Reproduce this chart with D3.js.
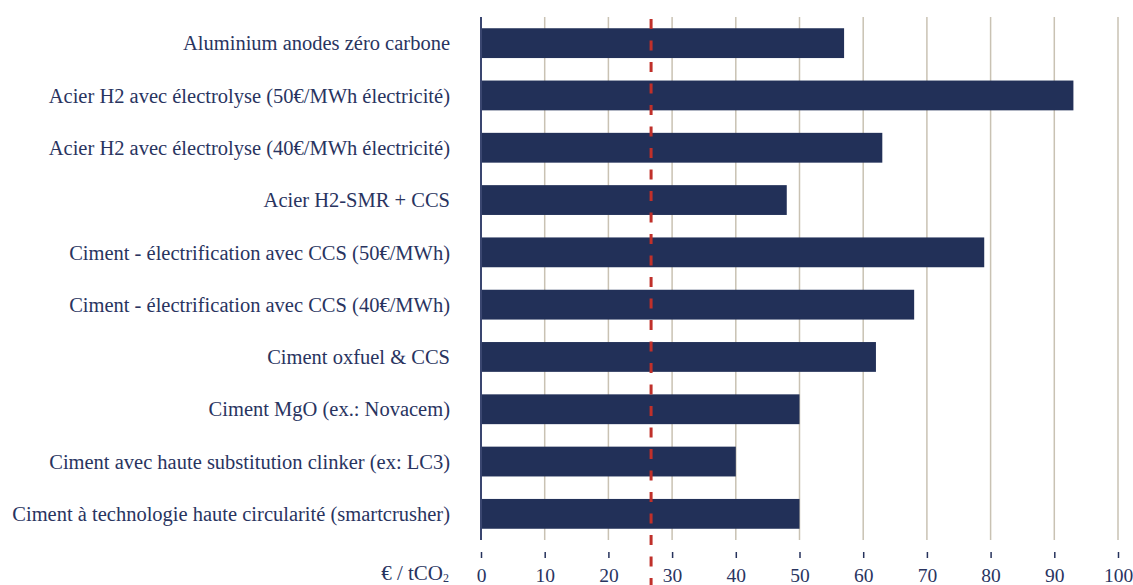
<!DOCTYPE html>
<html>
<head>
<meta charset="utf-8">
<script src="https://cdn.jsdelivr.net/npm/d3@7"></script>
<style>
  html, body { margin: 0; padding: 0; background: #ffffff; }
  svg { display: block; }
  text { font-family: "Liberation Serif", "DejaVu Serif", serif; fill: #29345f; }
</style>
</head>
<body>
<svg id="chart" width="1133" height="585"></svg>
<script>
// Abatement cost by industrial decarbonisation option (€ / tCO2)
const categories = [
  "Aluminium anodes zéro carbone",
  "Acier H2 avec électrolyse (50€/MWh électricité)",
  "Acier H2 avec électrolyse (40€/MWh électricité)",
  "Acier H2-SMR + CCS",
  "Ciment - électrification avec CCS (50€/MWh) ",
  "Ciment - électrification avec CCS (40€/MWh) ",
  "Ciment oxfuel & CCS",
  "Ciment MgO (ex.: Novacem)",
  "Ciment avec haute substitution clinker (ex: LC3)",
  "Ciment à technologie haute circularité (smartcrusher)"
];
const costs = [57, 93, 63, 48, 79, 68, 62, 50, 40, 50];
const tickValues = [0, 10, 20, 30, 40, 50, 60, 70, 80, 90, 100];
const carbonPrice = [26.7];

const svg = d3.select("#chart");
const margin = { left: 481, top: 17, plotBottom: 540 };

const x = d3.scaleLinear().domain([0, 100]).range([margin.left, 1118]);
const y = d3.scaleBand().domain(categories).range([margin.top, margin.plotBottom]).paddingInner(0.43).paddingOuter(0.215);

// vertical gridlines
svg.append("g")
  .selectAll("line")
  .data(tickValues.filter(d => d > 0))
  .join("line")
  .attr("x1", d => x(d)).attr("x2", d => x(d))
  .attr("y1", margin.top).attr("y2", margin.plotBottom)
  .attr("stroke", "#c9c2b3")
  .attr("stroke-width", 1.5);

// bars
svg.append("g")
  .selectAll("rect")
  .data(categories)
  .join("rect")
  .attr("x", x(0))
  .attr("y", d => y(d))
  .attr("width", (d, i) => x(costs[i]) - x(0))
  .attr("height", y.bandwidth())
  .attr("fill", "#223058");

// value axis line
svg.append("line")
  .attr("x1", x(0)).attr("x2", x(0))
  .attr("y1", margin.top).attr("y2", margin.plotBottom)
  .attr("stroke", "#3a4670")
  .attr("stroke-width", 2);

// category labels
svg.append("g")
  .selectAll("text")
  .data(categories)
  .join("text")
  .attr("x", 450)
  .attr("y", d => y(d) + y.bandwidth() / 2)
  .attr("dy", "0.35em")
  .attr("text-anchor", "end")
  .attr("font-size", 20.5)
  .text(d => d);

// bottom axis: detached ticks and labels
const axis = d3.axisBottom(x).tickValues(tickValues).tickSize(6).tickPadding(0).tickFormat(d3.format("d"));
const gAxis = svg.append("g").attr("transform", "translate(0,552)").call(axis);
gAxis.select(".domain").remove();
gAxis.selectAll(".tick line").attr("stroke", "#26325c").attr("stroke-width", 1.5);
gAxis.selectAll(".tick text")
  .attr("y", 30)
  .attr("dy", null)
  .attr("font-family", "Liberation Serif, DejaVu Serif, serif")
  .attr("font-size", 19.5)
  .attr("fill", "#29345f");

// unit label
const unit = svg.append("text")
  .attr("x", 449)
  .attr("y", 580)
  .attr("text-anchor", "end")
  .attr("font-size", 21);
unit.append("tspan").text("€ / tCO");
unit.append("tspan").attr("font-size", 12).attr("dy", 2).text("2");

// carbon price reference line
svg.append("g")
  .selectAll("line")
  .data(carbonPrice)
  .join("line")
  .attr("x1", d => x(d)).attr("x2", d => x(d))
  .attr("y1", 19).attr("y2", 585)
  .attr("stroke", "#c0302a")
  .attr("stroke-width", 3)
  .attr("stroke-dasharray", "10,11.5");
</script>
</body>
</html>
